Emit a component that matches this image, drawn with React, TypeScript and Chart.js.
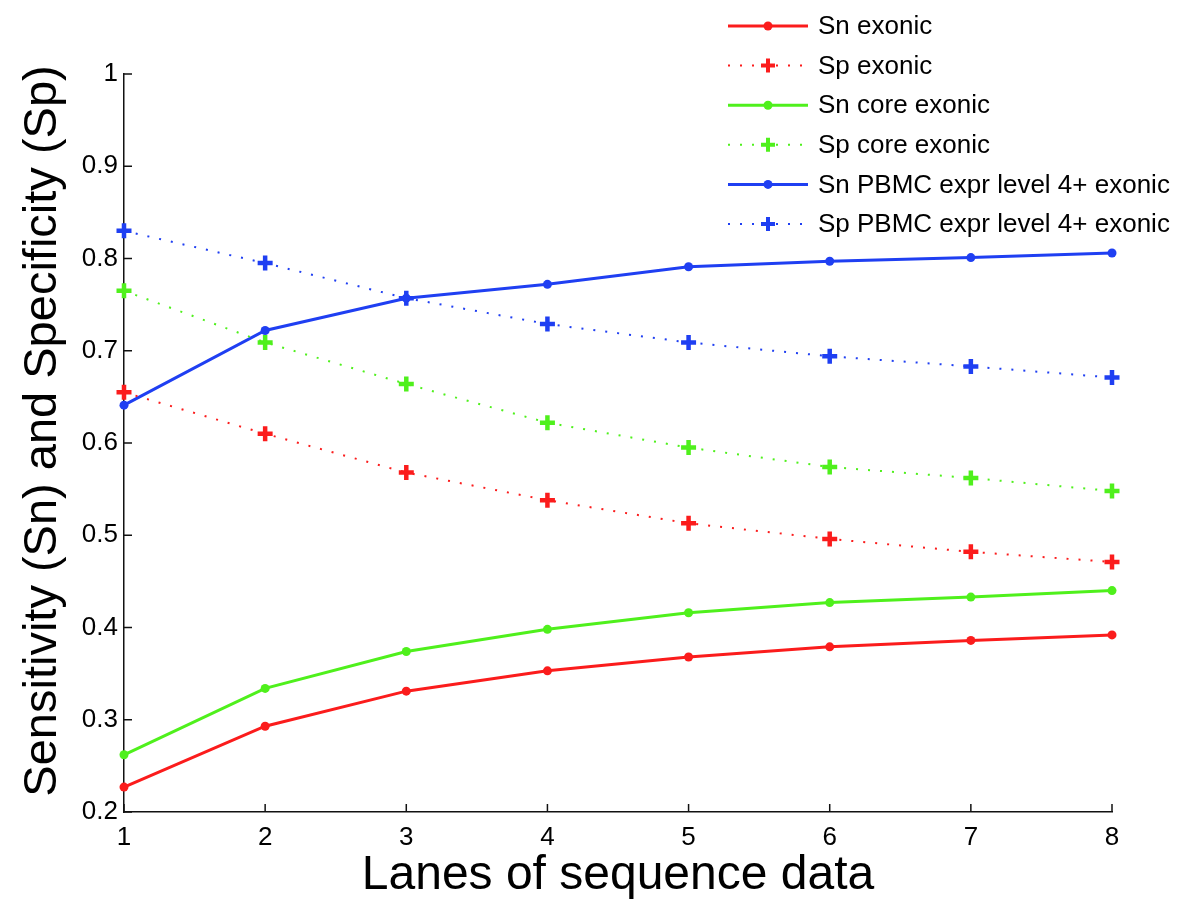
import React, { useEffect, useRef } from "react";
import { Chart, registerables } from "chart.js";

Chart.register(...registerables);

const LANES = [1, 2, 3, 4, 5, 6, 7, 8];
const Y_TICKS = [0.2, 0.3, 0.4, 0.5, 0.6, 0.7, 0.8, 0.9, 1];

const SN_EXONIC = [0.227, 0.293, 0.331, 0.353, 0.368, 0.379, 0.386, 0.392];
const SP_EXONIC = [0.655, 0.61, 0.568, 0.538, 0.513, 0.496, 0.482, 0.471];
const SN_CORE = [0.262, 0.334, 0.374, 0.398, 0.416, 0.427, 0.433, 0.44];
const SP_CORE = [0.765, 0.709, 0.664, 0.622, 0.595, 0.574, 0.562, 0.548];
const SN_PBMC = [0.641, 0.722, 0.757, 0.772, 0.791, 0.797, 0.801, 0.806];
const SP_PBMC = [0.83, 0.795, 0.757, 0.729, 0.709, 0.694, 0.683, 0.671];

const SERIES_LABELS = [
  "Sn exonic",
  "Sp exonic",
  "Sn core exonic",
  "Sp core exonic",
  "Sn PBMC expr level 4+ exonic",
  "Sp PBMC expr level 4+ exonic",
];

const X_TITLE = "Lanes of sequence data";
const Y_TITLE = "Sensitivity (Sn) and Specificity (Sp)";

const RED = "#fb1c1c";
const GREEN = "#4ff01c";
const BLUE = "#1f3ff2";
const FONT = "'Liberation Sans', Arial, Helvetica, sans-serif";

type Spec = { label: string; values: number[]; color: string; dotted: boolean };

const SPECS: Spec[] = [
  { label: SERIES_LABELS[0], values: SN_EXONIC, color: RED, dotted: false },
  { label: SERIES_LABELS[1], values: SP_EXONIC, color: RED, dotted: true },
  { label: SERIES_LABELS[2], values: SN_CORE, color: GREEN, dotted: false },
  { label: SERIES_LABELS[3], values: SP_CORE, color: GREEN, dotted: true },
  { label: SERIES_LABELS[4], values: SN_PBMC, color: BLUE, dotted: false },
  { label: SERIES_LABELS[5], values: SP_PBMC, color: BLUE, dotted: true },
];

function drawPlus(ctx: CanvasRenderingContext2D, x: number, y: number, r: number, color: string) {
  ctx.save();
  ctx.strokeStyle = color;
  ctx.lineWidth = 4;
  ctx.setLineDash([]);
  ctx.beginPath();
  ctx.moveTo(x - r, y);
  ctx.lineTo(x + r, y);
  ctx.moveTo(x, y - r);
  ctx.lineTo(x, y + r);
  ctx.stroke();
  ctx.restore();
}

function drawDot(ctx: CanvasRenderingContext2D, x: number, y: number, r: number, color: string) {
  ctx.save();
  ctx.fillStyle = color;
  ctx.beginPath();
  ctx.arc(x, y, r, 0, Math.PI * 2);
  ctx.fill();
  ctx.restore();
}

const matlabPlugin = {
  id: "matlabLook",
  beforeDatasetsDraw(chart: any) {
    const ctx: CanvasRenderingContext2D = chart.ctx;
    const xs = chart.scales.x;
    const ys = chart.scales.y;
    const area = chart.chartArea;
    ctx.save();
    ctx.strokeStyle = "#111";
    ctx.lineWidth = 1.5;
    const tl = 8;
    xs.ticks.forEach((t: any) => {
      const px = xs.getPixelForValue(t.value);
      ctx.beginPath();
      ctx.moveTo(px, area.bottom);
      ctx.lineTo(px, area.bottom - tl);
      ctx.stroke();
    });
    ys.ticks.forEach((t: any) => {
      const py = ys.getPixelForValue(t.value);
      ctx.beginPath();
      ctx.moveTo(area.left, py);
      ctx.lineTo(area.left + tl, py);
      ctx.stroke();
    });
    // y-axis title (rotated), placed like the reference
    ctx.fillStyle = "#000";
    ctx.font = `47px ${FONT}`;
    ctx.textAlign = "center";
    ctx.textBaseline = "alphabetic";
    ctx.translate(56, 431);
    ctx.rotate(-Math.PI / 2);
    ctx.fillText(Y_TITLE, 0, 0);
    ctx.restore();
  },
  afterDraw(chart: any) {
    const ctx: CanvasRenderingContext2D = chart.ctx;
    const x0 = 728;
    const x1 = 808;
    const xm = 768;
    const textX = 818;
    const y0 = 26;
    const dy = 39.6;
    ctx.save();
    ctx.font = `26px ${FONT}`;
    ctx.textBaseline = "middle";
    ctx.textAlign = "left";
    SPECS.forEach((s, i) => {
      const y = y0 + i * dy;
      ctx.strokeStyle = s.color;
      ctx.lineWidth = s.dotted ? 2 : 3;
      ctx.setLineDash(s.dotted ? [2, 10] : []);
      ctx.beginPath();
      ctx.moveTo(x0, y);
      ctx.lineTo(x1, y);
      ctx.stroke();
      ctx.setLineDash([]);
      if (s.dotted) drawPlus(ctx, xm, y, 7, s.color);
      else drawDot(ctx, xm, y, 4.5, s.color);
      ctx.fillStyle = "#000";
      ctx.fillText(s.label, textX, y + 1);
    });
    ctx.restore();
  },
};

export default function App() {
  const ref = useRef<HTMLCanvasElement | null>(null);

  useEffect(() => {
    if (!ref.current) return;
    Chart.defaults.font.family = FONT;
    const datasets = SPECS.map((s) => ({
      label: s.label,
      data: LANES.map((x, i) => ({ x, y: s.values[i] })),
      borderColor: s.color,
      backgroundColor: s.color,
      borderWidth: s.dotted ? 2 : 3,
      borderDash: s.dotted ? [2, 10] : [],
      pointStyle: s.dotted ? "cross" : "circle",
      pointRadius: s.dotted ? 7.5 : 4.5,
      pointBorderWidth: s.dotted ? 4.5 : 0,
      pointBackgroundColor: s.color,
      pointBorderColor: s.color,
      tension: 0,
      fill: false,
      clip: false as any,
    }));

    const chart = new Chart(ref.current, {
      type: "line",
      data: { datasets },
      options: {
        animation: false,
        responsive: false,
        layout: { padding: { top: 74, right: 88, left: 0, bottom: 0 } },
        plugins: { legend: { display: false }, tooltip: { enabled: false } },
        scales: {
          x: {
            type: "linear",
            min: 1,
            max: 8,
            afterBuildTicks: (scale: any) => {
              scale.ticks = LANES.map((v) => ({ value: v }));
            },
            afterFit: (scale: any) => {
              scale.height = 99;
            },
            grid: { display: false, drawTicks: false },
            border: { display: true, color: "#111", width: 1.5 },
            ticks: {
              color: "#000",
              font: { size: 26 },
              padding: 10,
              maxRotation: 0,
              callback: (v: any) => String(v),
            },
            title: {
              display: true,
              text: X_TITLE,
              color: "#000",
              font: { size: 48 },
              padding: { top: 0, bottom: 6 },
            },
          },
          y: {
            type: "linear",
            min: 0.2,
            max: 1,
            afterBuildTicks: (scale: any) => {
              scale.ticks = Y_TICKS.map((v) => ({ value: v }));
            },
            afterFit: (scale: any) => {
              scale.width = 124;
            },
            grid: { display: false, drawTicks: false },
            border: { display: true, color: "#111", width: 1.5 },
            ticks: {
              color: "#000",
              font: { size: 26 },
              padding: 6,
              callback: (v: any) => String(Number(Number(v).toFixed(1))),
            },
            title: { display: false },
          },
        },
      },
      plugins: [matlabPlugin],
    } as any);

    return () => chart.destroy();
  }, []);

  return (
    <div style={{ position: "absolute", left: 0, top: 0, width: 1200, height: 911, background: "#fff" }}>
      <canvas ref={ref} width={1200} height={911} style={{ display: "block" }} />
    </div>
  );
}
